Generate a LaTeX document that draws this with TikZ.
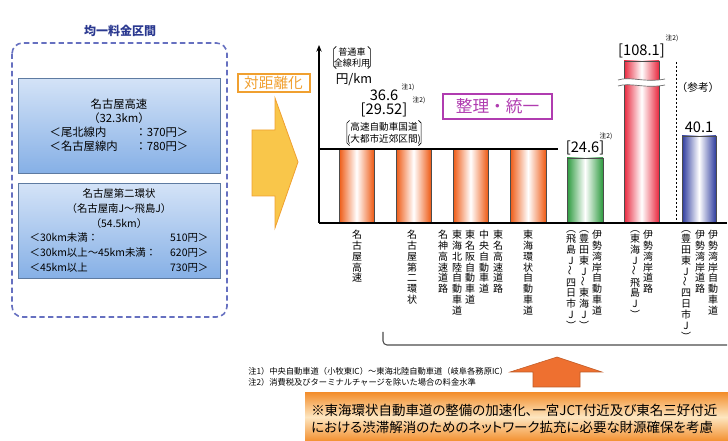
\documentclass[tikz,border=0pt]{standalone}
\usepackage{fontspec}
\setmainfont{Noto Sans CJK JP}
\newfontfamily\bannerfont[RawFeature=+palt]{Noto Sans CJK JP}
\usepackage{xcolor}
\usepackage{tikz}
\usetikzlibrary{arrows.meta}
\usetikzlibrary{calc, positioning}
\definecolor{titleblue}{HTML}{2B3990}
\definecolor{dashblue}{HTML}{6670C0}
\definecolor{skytop}{HTML}{D4E3F7}
\definecolor{skybot}{HTML}{86B0E6}
\definecolor{barorange}{HTML}{EE5A14}
\definecolor{bargreen}{HTML}{2C9A3E}
\definecolor{barred}{HTML}{E8283E}
\definecolor{barblue}{HTML}{2E3C9E}
\definecolor{arrowyellow}{HTML}{F9C64A}
\definecolor{arroworange}{HTML}{F0A030}
\definecolor{labelmagenta}{HTML}{B03CB0}
\definecolor{uparrow}{HTML}{EE7030}
\definecolor{bannerorange}{HTML}{F39030}
\definecolor{bannerlight}{HTML}{FDE6C0}
\tikzstyle{infobox} = [draw=skybot!70!black,
	top color=skytop, bottom color=skybot,
	minimum width = 151.5pt,
	align=center, inner sep=0pt]
\tikzstyle{vtext} = [anchor=north, align=center, inner sep=0pt,
	font=\fontsize{7.5}{8.1}\selectfont]
\tikzstyle{num} = [font=\fontsize{11}{12}\selectfont, inner sep=1pt]
\tikzstyle{note} = [font=\fontsize{5}{6}\selectfont, inner sep=0pt]
\newcommand{\drawbar}[5]{\shade[left color=#5, right color=#5, middle color=white,
	draw=black!70, line width=0.5pt] (#2,#4) rectangle (#3,223);
	\coordinate (#1) at ($ (#2,#4)!0.5!(#3,#4) $)}
\newcommand{\brackets}[1]{\draw[line width=0.5pt] ([xshift=3pt]#1.north west) -- ++(-2pt,-2pt) -- ([xshift=1pt,yshift=2pt]#1.south west) -- ([xshift=3pt]#1.south west);
	\draw[line width=0.5pt] ([xshift=-3pt]#1.north east) -- ++(2pt,-2pt) -- ([xshift=-1pt,yshift=2pt]#1.south east) -- ([xshift=-3pt]#1.south east)}
\newcommand{\vlabel}[3]{\node[vtext] (#1) at (#2,230) {#3}}
\newcommand{\vwave}{\rotatebox{90}{～}}

\begin{document}
\begin{tikzpicture}[x=0.75pt, y=-0.75pt]
	\useasboundingbox (0,0) rectangle (728,441);
	
	%均一料金区間
	\node (flat) [font=\fontsize{9}{10}\selectfont\bfseries, text=titleblue] at (120,31) {均一料金区間};
	\draw[dashblue, line width=1.2pt, dash pattern=on 4pt off 2.5pt, rounded corners=8pt] (12,43) rectangle (227,317);
	\node (hwy) [infobox, minimum height=71pt, font=\fontsize{8.5}{10.5}\selectfont] at (119,125.5) {名古屋高速\\（32.3km）\\\makebox[104pt]{＜尾北線内\hfill ：370円＞}\\\makebox[104pt]{＜名古屋線内\hfill ：780円＞}};
	\node (ring) [infobox, minimum height=71pt, font=\fontsize{7.8}{11}\selectfont] at (119,230.5) {名古屋第二環状\\（名古屋南J～飛島J）\\（54.5km）\\\makebox[134pt]{＜30km未満：\hfill 510円＞}\\\makebox[134pt]{＜30km以上～45km未満：\hfill 620円＞}\\\makebox[134pt]{＜45km以上\hfill 730円＞}};
	
	%対距離化
	\filldraw[fill=arrowyellow, draw=arroworange, line width=0.6pt] (252,130) -- (275,130) -- (275,98) -- (298,162) -- (275,228) -- (275,196) -- (252,196) -- cycle;
	\node (dist) [draw=arroworange, line width=1.5pt, text=arroworange, minimum width=54pt, minimum height=14pt, inner sep=1pt, font=\fontsize{11}{12}\selectfont] at (273.5,83) {対距離化};
	
	%グラフ
	\drawbar{bar1}{339}{374}{149}{barorange};
	\drawbar{bar2}{396}{431}{149}{barorange};
	\drawbar{bar3}{453}{488}{149}{barorange};
	\drawbar{bar4}{510}{546}{149}{barorange};
	\drawbar{greenbar}{567}{603}{158}{bargreen};
	\drawbar{redbar}{624}{659}{61}{barred};
	\drawbar{bluebar}{682}{716}{136}{barblue};
	\fill[white] (618,80) .. controls (630,76) and (645,83) .. (665,79) -- (665,85) .. controls (645,89) and (630,82) .. (618,86) -- cycle;
	\draw[black!60, line width=0.5pt] (618,80) .. controls (630,76) and (645,83) .. (665,79);
	\draw[black!60, line width=0.5pt] (618,86) .. controls (630,82) and (645,89) .. (665,85);
	\draw[line width=2pt] (319,149) -- (558,149);
	\draw[-{Stealth[length=5pt, width=4pt]}, line width=0.8pt] (319,223) -- (319,45);
	\draw[line width=0.8pt] (319,223) -- (727,223);
	\draw[dash pattern=on 1.5pt off 1.5pt, line width=0.6pt] (676,62) -- (676,223);
	
	\node (unit) [font=\fontsize{6.8}{8}\selectfont, align=center, inner sep=1pt] at (352,57.5) {普通車\\全線利用};
	\brackets{unit};
	\node (yen) [font=\fontsize{9.5}{10}\selectfont] at (354,80) {円/km};
	\node (v366) [num] at (384,95) {36.6};
	\node (n1) [note] at (408,87) {注1)};
	\node (v2952) [num] at (384,110) {[29.52]};
	\node (n2) [note] at (419,100) {注2)};
	\node (expr) [font=\fontsize{7.2}{9}\selectfont, align=center, inner sep=1pt] at (384,133) {高速自動車国道\\(大都市近郊区間)};
	\brackets{expr};
	\node (unify) [draw=labelmagenta, line width=1.5pt, text=labelmagenta, minimum width=82pt, minimum height=17pt, font=\fontsize{12.5}{13}\selectfont] at (497.5,106.5) {整理・統一};
	\node (v246) [num, above=1pt of greenbar] {[24.6]};
	\node (n3) [note] at (606,136) {注2)};
	\node (v1081) [num, above=1pt of redbar] {[108.1]};
	\node (n4) [note] at (672,38) {注2)};
	\node (ref) [font=\fontsize{8}{9}\selectfont] at (698,87) {（参考）};
	\node (v401) [num, above=1pt of bluebar] {40.1};
	
	%路線名
	\vlabel{lbl1}{357}{名\\古\\屋\\高\\速};
	\vlabel{lbl2}{412}{名\\古\\屋\\第\\二\\環\\状};
	\vlabel{lbl3}{443}{名\\神\\高\\速\\道\\路};
	\vlabel{lbl4}{457}{東\\海\\北\\陸\\自\\動\\車\\道};
	\vlabel{lbl5}{470}{東\\名\\阪\\自\\動\\車\\道};
	\vlabel{lbl6}{484}{中\\央\\自\\動\\車\\道};
	\vlabel{lbl7}{498}{東\\名\\高\\速\\道\\路};
	\vlabel{lbl8}{528}{東\\海\\環\\状\\自\\動\\車\\道};
	\vlabel{lbl9}{597}{伊\\勢\\湾\\岸\\自\\動\\車\\道};
	\vlabel{lbl10}{584}{︵\\豊\\田\\東\\J\\\vwave\\東\\海\\J\\︶};
	\vlabel{lbl11}{571}{︵\\飛\\島\\J\\\vwave\\四\\日\\市\\J\\︶};
	\vlabel{lbl12}{648}{伊\\勢\\湾\\岸\\道\\路};
	\vlabel{lbl13}{635}{︵\\東\\海\\J\\\vwave\\飛\\島\\J\\︶};
	\vlabel{lbl14}{713}{伊\\勢\\湾\\岸\\自\\動\\車\\道};
	\vlabel{lbl15}{700}{伊\\勢\\湾\\岸\\道\\路};
	\vlabel{lbl16}{686}{︵\\豊\\田\\東\\J\\\vwave\\四\\日\\市\\J\\︶};
	\draw[line width=0.8pt, black!70, rounded corners=3pt] (383,332) -- (383,345) -- (727,345);
	
	%注記
	\node (note1) [font=\fontsize{6.2}{7}\selectfont, anchor=west, inner sep=0pt] at (248,371) {注1）中央自動車道（小牧東IC）～東海北陸自動車道（岐阜各務原IC）};
	\node (note2) [font=\fontsize{6.2}{7}\selectfont, anchor=west, inner sep=0pt] at (248,382) {注2）消費税及びターミナルチャージを除いた場合の料金水準};
	\filldraw[fill=uparrow, draw=uparrow!80!black, line width=0.4pt] (533,387) -- (533,372) -- (510,372) -- (557,357) -- (602,372) -- (580,372) -- (580,387) -- cycle;
	\shade[top color=bannerorange, bottom color=bannerorange, middle color=bannerlight] (305,393) rectangle (728,441);
	\node (cause1) [anchor=west, inner sep=0pt, font=\bannerfont\fontsize{10.1}{12}\selectfont] at (311,410) {※東海環状自動車道の整備の加速化、一宮JCT付近及び東名三好付近};
	\node (cause2) [anchor=west, inner sep=0pt, font=\bannerfont\fontsize{10.1}{12}\selectfont] at (311,427) {における渋滞解消のためのネットワーク拡充に必要な財源確保を考慮};
\end{tikzpicture}
\end{document}
